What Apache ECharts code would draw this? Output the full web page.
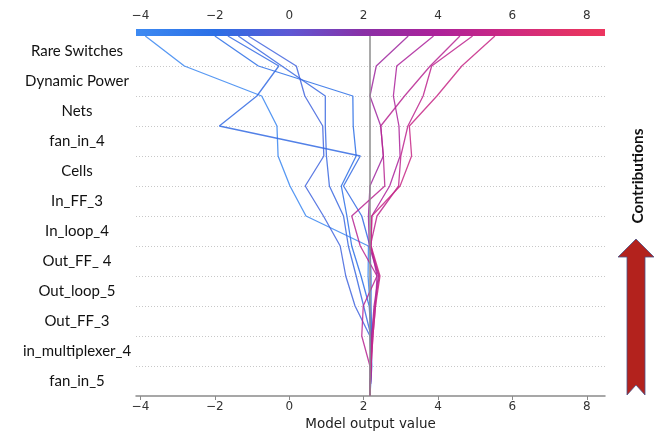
<!DOCTYPE html>
<html>
<head>
<meta charset="utf-8">
<script src="https://cdn.jsdelivr.net/npm/echarts@6/dist/echarts.min.js"></script>
<style>
html,body{margin:0;padding:0;background:#fff;}
#chart{width:657px;height:436px;}
</style>
</head>
<body>
<div id="chart"></div>
<script>
// Features, top to bottom as displayed
const features = ['Rare Switches','Dynamic Power','Nets','fan_in_4','Cells','In_FF_3','In_loop_4','Out_FF_ 4','Out_loop_5','Out_FF_3','in_multiplexer_4','fan_in_5'];
const xTicks = [-4,-2,0,2,4,6,8];
const xMin = -4.12, xMax = 8.49;
const baseValue = 2.17;

// Cumulative model output, from the base (bottom, level 0) up to the final prediction (top, level 12)
const blue1 = [2.17, 2.20, 2.20, 2.17, 2.12, 2.13, 0.45, 0.02, -0.30, -0.33, -0.74, -2.82, -3.87];
const blue2 = [2.17, 2.22, 2.20, 2.15, 1.93, 1.68, 1.55, 1.40, 1.80, 1.72, 1.71, -0.83, -2.00];
const blue3 = [2.17, 2.20, 2.22, 2.20, 2.20, 2.17, 1.95, 1.46, 1.91, -1.88, -0.87, -0.28, -1.65];
const blue4 = [2.17, 2.18, 2.20, 2.00, 1.80, 1.59, 1.46, 1.08, 1.00, 0.97, 0.97, -0.20, -1.37];
const blue5 = [2.17, 2.20, 2.17, 1.77, 1.52, 1.37, 0.92, 0.43, 0.93, 0.90, 0.42, 0.19, -1.10];
const pink1 = [2.17, 2.20, 2.22, 2.28, 2.40, 2.15, 2.13, 2.17, 2.53, 2.46, 2.17, 2.34, 3.20];
const pink2 = [2.17, 2.20, 2.25, 2.32, 2.36, 2.20, 2.22, 2.70, 2.98, 2.95, 2.80, 2.89, 3.88];
const pink3 = [2.17, 2.17, 1.95, 1.99, 2.36, 1.91, 1.68, 2.57, 2.53, 2.46, 3.10, 3.79, 4.59];
const pink4 = [2.17, 2.20, 2.22, 2.30, 2.42, 2.18, 2.36, 2.94, 3.00, 3.19, 3.60, 3.83, 4.93];
const pink5 = [2.17, 2.20, 2.25, 2.32, 2.44, 2.20, 2.22, 2.98, 3.29, 3.23, 3.97, 4.64, 5.53];
const paths = [blue1, blue2, blue3, blue4, blue5, pink1, pink2, pink3, pink4, pink5];

// colour map (position along colour bar, colour)
const cmapStops = [
  [0.00, '#3d8af2'], [0.168, '#2b6fe6'], [0.327, '#5e58d4'],
  [0.486, '#8a2fa6'], [0.645, '#ad219a'], [0.803, '#cf2a80'],
  [0.961, '#e8345f'], [1.00, '#ec3560']
];
function hexToRgb(h){ return [parseInt(h.substr(1,2),16), parseInt(h.substr(3,2),16), parseInt(h.substr(5,2),16)]; }
function cmap(t){
  t = Math.max(0, Math.min(1, t));
  for (let i = 0; i < cmapStops.length - 1; i++) {
    const [t0, c0] = cmapStops[i], [t1, c1] = cmapStops[i+1];
    if (t >= t0 && t <= t1) {
      const f = (t - t0) / (t1 - t0);
      const a = hexToRgb(c0), b = hexToRgb(c1);
      return 'rgb(' + a.map((v,k) => Math.round(v + (b[k]-v)*f)).join(',') + ')';
    }
  }
  return cmapStops[cmapStops.length-1][1];
}
const fmt = v => v < 0 ? '\u2212' + Math.abs(v) : String(v);

const chart = echarts.init(document.getElementById('chart'), null, {renderer:'canvas'});

const lineSeries = paths.map((p, idx) => ({
  type: 'line',
  xAxisIndex: 0, yAxisIndex: 0,
  data: p.map((v, lvl) => [v, lvl]),
  symbol: 'none',
  silent: true,
  z: 3,
  lineStyle: { width: 1.3, color: cmap((p[p.length-1] - xMin) / (xMax - xMin)), opacity: 0.85 },
  markLine: idx === 0 ? {
    silent: true, symbol: 'none', label: {show:false},
    lineStyle: { color: '#8c8c8c', width: 1.5, type: 'solid' },
    data: [{ xAxis: baseValue }]
  } : undefined
}));

const option = {
  animation: false,
  backgroundColor: '#fff',
  grid: [
    { left: 136, right: 52, top: 36, bottom: 40, containLabel: false, outerBoundsMode: 'none' },
    { left: 136, right: 52, top: 29, height: 7, containLabel: false, outerBoundsMode: 'none' }
  ],
  xAxis: [
    {
      type: 'value', gridIndex: 0, min: xMin, max: xMax,
      splitLine: { show: false },
      axisLine: { show: true, lineStyle: { color: '#8a8a8a', width: 1.5 } },
      axisTick: { show: true, length: 4, lineStyle: { color: '#8a8a8a' }, customValues: xTicks },
      axisLabel: { color: '#333', fontSize: 12, fontFamily: 'DejaVu Sans', margin: 5, customValues: xTicks, formatter: fmt },
      name: 'Model output value', nameLocation: 'middle', nameGap: 21,
      nameTextStyle: { color: '#222', fontSize: 13.5, fontFamily: 'DejaVu Sans' }
    },
    {
      type: 'value', gridIndex: 1, position: 'top', min: xMin, max: xMax,
      splitLine: { show: false },
      axisLine: { show: false },
      axisTick: { show: true, length: 3.5, lineStyle: { color: '#8a8a8a' }, customValues: xTicks },
      axisLabel: { color: '#333', fontSize: 12, fontFamily: 'DejaVu Sans', margin: 7, customValues: xTicks, formatter: fmt }
    }
  ],
  yAxis: [
    {
      type: 'value', gridIndex: 0, position: 'left', min: 0, max: features.length, interval: 1,
      axisLine: { show: false }, axisTick: { show: false }, axisLabel: { show: false },
      splitLine: { show: true, showMinLine: false, showMaxLine: false, lineStyle: { color: '#c8c8c8', type: [1, 2], width: 1 } }
    },
    {
      type: 'category', gridIndex: 0, position: 'left', offset: 0, data: features.slice().reverse(), boundaryGap: true,
      axisLine: { show: false }, axisTick: { show: false }, splitLine: { show: false },
      axisLabel: { align: 'center', margin: 59, color: '#111', fontSize: 15, fontFamily: 'Lato' }
    },
    {
      type: 'value', gridIndex: 1, min: 0, max: 1, show: false
    }
  ],
  series: [
    {
      type: 'line', xAxisIndex: 1, yAxisIndex: 2, data: [], silent: true,
      markArea: {
        silent: true,
        itemStyle: {
          color: { type: 'linear', x: 0, y: 0, x2: 1, y2: 0,
                   colorStops: cmapStops.map(s => ({ offset: s[0], color: s[1] })) }
        },
        data: [[{ coord: [xMin, 0] }, { coord: [xMax, 1] }]]
      }
    },
    ...lineSeries
  ],
  graphic: [
    {
      type: 'text', x: 638, y: 176, rotation: Math.PI / 2,
      style: { text: 'Contributions', font: 'bold 15.5px Lato', fill: '#111', align: 'center', verticalAlign: 'middle' }
    },
    {
      type: 'polygon',
      shape: { points: [[636,239],[654,257],[645,257],[645,395],[636,385],[627,395],[627,257],[618,257]] },
      style: { fill: '#b3221d', stroke: '#4a5488', lineWidth: 0.8 }
    }
  ]
};
chart.setOption(option);
</script>
</body>
</html>
